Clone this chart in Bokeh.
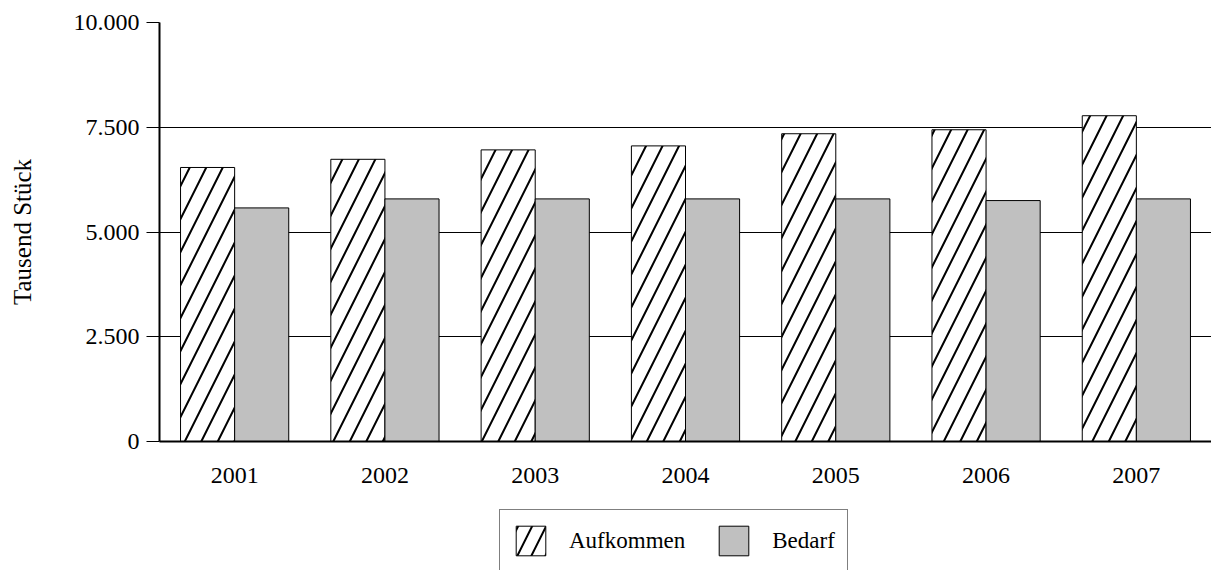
from bokeh.plotting import figure
from bokeh.layouts import column
from bokeh.models import ColumnDataSource, Legend, LegendItem, FixedTicker, Range1d
from bokeh.embed import file_html
from bokeh.resources import INLINE

years = ["2001", "2002", "2003", "2004", "2005", "2006", "2007"]
aufkommen = [6540, 6735, 6960, 7055, 7345, 7440, 7775]
bedarf = [5575, 5790, 5790, 5790, 5790, 5750, 5790]
y_ticks = [0, 2500, 5000, 7500, 10000]
y_tick_labels = ["0", "2.500", "5.000", "7.500", "10.000"]
series_names = ["Aufkommen", "Bedarf"]

FONT = "Liberation Serif"
FS = "24px"

idx = list(range(len(years)))
src = ColumnDataSource(dict(
    x_a=[i - 0.18 for i in idx],
    x_b=[i + 0.18 for i in idx],
    auf=aufkommen,
    bed=bedarf,
))

p = figure(width=1211, height=500, output_backend="svg", toolbar_location=None,
           x_range=Range1d(-0.5, 6.5), y_range=Range1d(0, 10000),
           min_border_left=159, min_border_right=0, min_border_top=22,
           min_border_bottom=59)
p.outline_line_color = None
p.background_fill_color = "white"
p.border_fill_color = "white"

HATCH = dict(fill_color="white", line_color="black", line_width=1,
             hatch_pattern="/", hatch_color="black", hatch_weight=2)
GREY = dict(fill_color="#c0c0c0", line_color="black", line_width=1)

p.vbar(x="x_a", top="auf", width=0.36, source=src, hatch_scale=33, **HATCH)
p.vbar(x="x_b", top="bed", width=0.36, source=src, **GREY)

# axes
p.xaxis.ticker = FixedTicker(ticks=idx)
p.xaxis.major_label_overrides = {i: y for i, y in zip(idx, years)}
p.xaxis.major_tick_line_color = None
p.xaxis.minor_tick_line_color = None
p.xaxis.axis_line_width = 2
p.xaxis.axis_line_color = "black"
p.xaxis.major_label_text_font = FONT
p.xaxis.major_label_text_font_size = FS
p.xaxis.major_label_text_color = "black"
p.xaxis.major_label_standoff = 20

p.yaxis.ticker = FixedTicker(ticks=y_ticks)
p.yaxis.major_label_overrides = {t: l for t, l in zip(y_ticks, y_tick_labels)}
p.yaxis.axis_line_width = 2
p.yaxis.axis_line_color = "black"
p.yaxis.major_tick_out = 13
p.yaxis.major_tick_in = 0
p.yaxis.major_tick_line_color = "black"
p.yaxis.minor_tick_line_color = None
p.yaxis.major_label_text_font = FONT
p.yaxis.major_label_text_font_size = FS
p.yaxis.major_label_text_color = "black"
p.yaxis.major_label_standoff = 7
p.yaxis.axis_label = "Tausend Stück"
p.yaxis.axis_label_text_font = FONT
p.yaxis.axis_label_text_font_size = "25px"
p.yaxis.axis_label_text_font_style = "normal"
p.yaxis.axis_label_text_color = "black"
p.yaxis.axis_label_standoff = 35

p.xgrid.grid_line_color = None
p.ygrid.ticker = FixedTicker(ticks=y_ticks)
p.ygrid.grid_line_color = "black"
p.ygrid.grid_line_width = 1

# legend strip below the chart
lg = figure(width=1211, height=70, output_backend="svg", toolbar_location=None,
            x_range=Range1d(0, 1), y_range=Range1d(0, 1),
            min_border=0, min_border_left=0, min_border_right=0,
            min_border_top=0, min_border_bottom=0,
            x_axis_location=None, y_axis_location=None)
lg.outline_line_color = None
lg.grid.grid_line_color = None
lg.background_fill_color = "white"
lg.border_fill_color = "white"
# swatch renderers placed outside the visible range (used only by the legend)
la = lg.vbar(x=[-5], top=[-2], bottom=[-3], width=0.1, hatch_scale=28, **HATCH)
lb = lg.vbar(x=[-5], top=[-2], bottom=[-3], width=0.1, **GREY)

legend = Legend(items=[LegendItem(label=series_names[0], renderers=[la]),
                       LegendItem(label=series_names[1], renderers=[lb])],
                location=(340, -2), orientation="horizontal",
                border_line_color="black", border_line_width=1,
                padding=12, spacing=30, glyph_width=37, glyph_height=37,
                label_standoff=20, label_text_font=FONT,
                label_text_font_size="23px", label_text_color="black",
                background_fill_color="white", background_fill_alpha=1,
                margin=0)
lg.add_layout(legend)

layout = column(p, lg, spacing=0)
open("out.html", "w").write(file_html(layout, INLINE))
